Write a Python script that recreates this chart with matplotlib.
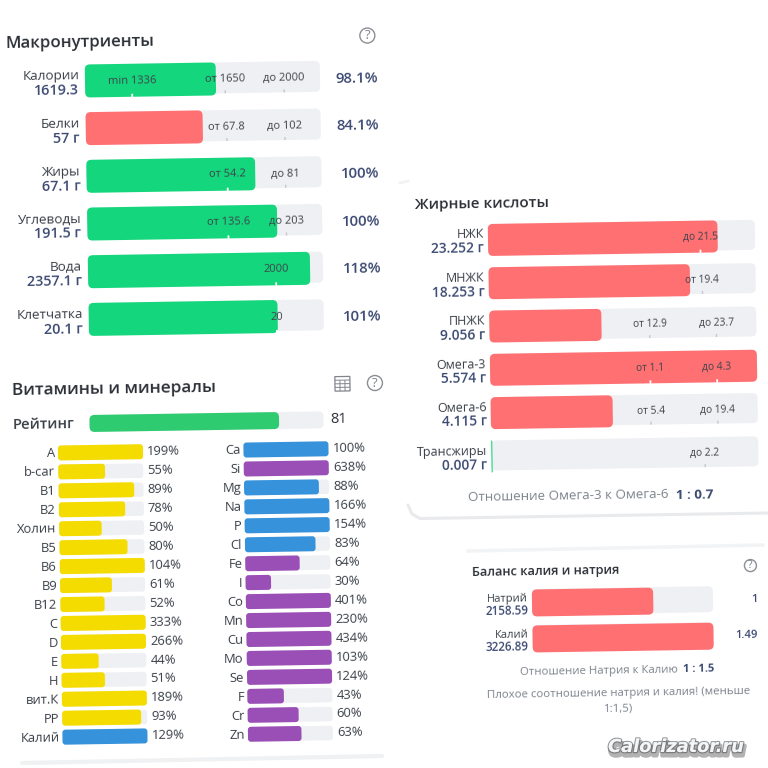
import matplotlib
matplotlib.use("Agg")
import matplotlib.pyplot as plt
import matplotlib.patheffects as pe
from matplotlib.patches import FancyBboxPatch, Circle, Rectangle
from matplotlib.transforms import Affine2D

plt.rcParams['font.family'] = ['Open Sans', 'DejaVu Sans']

GREEN = "#14d67c"
RED = "#ff7073"
TRACK = "#eff0f3"
YELLOW = "#f5dc00"
BLUE = "#3592db"
PURPLE = "#9a4fb6"
DARK = "#3a3f47"
NAVY = "#3c4a72"
GREY = "#7d838c"

# macronutrients
macro_names = ["Калории", "Белки", "Жиры", "Углеводы", "Вода", "Клетчатка"]
macro_values = ["1619.3", "57 г", "67.1 г", "191.5 г", "2357.1 г", "20.1 г"]
macro_pct = ["98.1%", "84.1%", "100%", "100%", "118%", "101%"]
macro_fill = [0.557, 0.498, 0.718, 0.808, 0.945, 0.804]
macro_colors = [GREEN, RED, GREEN, GREEN, GREEN, GREEN]
macro_ticks = [
    [("min 1336", 0.2), ("от 1650", 0.596), ("до 2000", 0.847)],
    [("от 67.8", 0.6), ("до 102", 0.847)],
    [("от 54.2", 0.6), ("до 81", 0.847)],
    [("от 135.6", 0.6), ("до 203", 0.847)],
    [("2000", 0.8)],
    [("20", 0.8)],
]

# vitamins and minerals
rating = 81
vit_names = ["A", "b-car", "B1", "B2", "Холин", "B5", "B6", "B9", "B12", "C", "D", "E", "H", "вит.К", "PP", "Калий"]
vit_pct = [199, 55, 89, 78, 50, 80, 104, 61, 52, 333, 266, 44, 51, 189, 93, 129]
min_names = ["Ca", "Si", "Mg", "Na", "P", "Cl", "Fe", "I", "Co", "Mn", "Cu", "Mo", "Se", "F", "Cr", "Zn"]
min_pct = [100, 638, 88, 166, 154, 83, 64, 30, 401, 230, 434, 103, 124, 43, 60, 63]
vit_colors = [YELLOW] * 15 + [BLUE]
min_colors = [BLUE, PURPLE, BLUE, BLUE, BLUE, BLUE] + [PURPLE] * 10

# fatty acids
fat_names = ["НЖК", "МНЖК", "ПНЖК", "Омега-3", "Омега-6", "Трансжиры"]
fat_values = ["23.252 г", "18.253 г", "9.056 г", "5.574 г", "4.115 г", "0.007 г"]
fat_fill = [0.86, 0.754, 0.42, 1.0, 0.457, 0.004]
fat_colors = [RED, RED, RED, RED, RED, GREEN]
fat_ticks = [
    [("до 21.5", 0.795)],
    [("от 19.4", 0.8)],
    [("от 12.9", 0.6), ("до 23.7", 0.85)],
    [("от 1.1", 0.6), ("до 4.3", 0.85)],
    [("от 5.4", 0.6), ("до 19.4", 0.85)],
    [("до 2.2", 0.8)],
]

# potassium / sodium
bal_names = ["Натрий", "Калий"]
bal_values = ["2158.59", "3226.89"]
bal_ratio = ["1", "1.49"]
bal_fill = [0.67, 1.0]

fig = plt.figure(figsize=(7.68, 7.68), dpi=100)
ax = fig.add_axes([0, 0, 1, 1])
ax.set_xlim(0, 768)
ax.set_ylim(768, 0)
ax.axis("off")

ANGLE = 0.9


class Panel:
    # everything in the screenshot is slightly rotated, so each block has its own pivot
    def __init__(self, px, py):
        self.rot = Affine2D().rotate_deg_around(px, py, -ANGLE)
        self.tf = self.rot + ax.transData

    def text(self, x, y, s, **kw):
        x2, y2 = self.rot.transform((x, y))
        kw.setdefault("va", "center")
        kw.setdefault("ha", "left")
        ax.text(x2, y2, s, rotation=ANGLE, rotation_mode="anchor", **kw)

    def box(self, x, y, w, h, color, r=5):
        r = min(r, w / 2, h / 2)
        ax.add_patch(FancyBboxPatch((x, y - h / 2), w, h, boxstyle=f"round,pad=0,rounding_size={r}",
                                    fc=color, ec="none", transform=self.tf))

    def line(self, x1, y1, x2, y2, color, lw=1.0):
        ax.plot([x1, x2], [y1, y2], color=color, lw=lw, transform=self.tf, solid_capstyle="butt")

    def help_icon(self, x, y, r=7.5):
        cx, cy = self.rot.transform((x, y))
        ax.add_patch(Circle((cx, cy), r, fc="white", ec="#8a8f96", lw=1.0))
        ax.text(cx, cy, "?", ha="center", va="center", fontsize=r * 1.25, color="#7b8087")


def tick_bar(p, x, y, w, h, fill, color, ticks, fs):
    # grey track, coloured fill, small labels with a notch on the bar bottom
    p.box(x, y - 1, w, h - 2, TRACK)
    p.box(x, y, w * fill, h, color)
    fill_end = x + w * fill
    for label, pos in ticks:
        tx = x + w * pos
        p.text(tx, y + 0.5, label, ha="center", fontsize=fs, color="#3f444b")
        if tx < fill_end:
            p.line(tx, y + h / 2 - 3, tx, y + h / 2 + 0.5, "white", 1.3)
        else:
            p.line(tx, y + h / 2 - 5, tx, y + h / 2 - 2, "#c4c7cc", 1.0)


# card shadows and separators
ax.plot([22, 382], [763, 756], color="#f0f1f3", lw=3, solid_capstyle="round")
ax.plot([408, 412, 420, 768], [505, 514, 518.5, 513], color="#e9eaec", lw=2.2, solid_capstyle="round")
ax.plot([400, 408], [183, 181], color="#f3f3f5", lw=2)
ax.plot([468, 763], [551, 545], color="#f2f3f5", lw=2.5)

# Macronutrients
p1 = Panel(85, 81)
p1.text(6, 43, "Макронутриенты", fontsize=12.1, weight="semibold", color="#2b2f36")
p1.help_icon(368, 40)
for i, name in enumerate(macro_names):
    y = 81 + i * 47.7
    p1.text(79, y - 5, name, ha="right", fontsize=9.7, color=DARK)
    p1.text(79, y + 9.5, macro_values[i], ha="right", fontsize=10.4, weight="semibold", color=NAVY)
    tick_bar(p1, 85, y, 235, 33, macro_fill[i], macro_colors[i], macro_ticks[i], 8.0)
    p1.text(378, y + 1.5, macro_pct[i], ha="right", fontsize=10.8, weight="semibold", color=NAVY)

# Vitamins and minerals
p2 = Panel(58, 453)
p2.text(13, 390, "Витамины и минералы", fontsize=12.4, weight="semibold", color="#2b2f36")
p2.help_icon(376, 388)
ix, iy = 336, 381
ax.add_patch(Rectangle((ix, iy), 15, 14.5, fc="none", ec="#80858c", lw=0.9, transform=p2.tf))
for k in (1, 2, 3):
    p2.line(ix, iy + k * 3.6, ix + 15, iy + k * 3.6, "#80858c", 0.7)
for k in (1, 2):
    p2.line(ix + k * 5, iy + 3.6, ix + k * 5, iy + 14.5, "#80858c", 0.7)
p2.text(13.5, 424.5, "Рейтинг", fontsize=10.6, weight="semibold", color=DARK)
p2.box(90, 424, 234, 17, TRACK)
p2.box(90, 424, 234 * rating / 100, 17, "#2ecb70")
p2.text(331, 424, str(rating), fontsize=10.5, color="#2b2f36")
ROW_H = 18.95
for col_x, names, pct, colors in ((58, vit_names, vit_pct, vit_colors), (243.5, min_names, min_pct, min_colors)):
    for i, name in enumerate(names):
        y = 453 + i * ROW_H
        p2.text(col_x - 3, y + 0.5, name, ha="right", fontsize=9.4, color=DARK)
        p2.box(col_x, y, 85, 14.5, TRACK, r=3)
        p2.box(col_x, y, 85 * min(pct[i], 100) / 100, 15, colors[i], r=3)
        p2.text(col_x + 89, y, f"{pct[i]}%", fontsize=9.4, color=DARK)

# Fatty acids
p3 = Panel(488, 240)
p3.text(415, 204, "Жирные кислоты", fontsize=11, weight="semibold", color="#2b2f36")
for i, name in enumerate(fat_names):
    y = 240 + i * 43.3
    p3.text(484, y - 5.5, name, ha="right", fontsize=9.0, color=DARK)
    p3.text(484, y + 8.5, fat_values[i], ha="right", fontsize=9.9, weight="semibold", color=NAVY)
    tick_bar(p3, 488, y, 267, 32, fat_fill[i], fat_colors[i], fat_ticks[i], 7.4)
p3.text(464, 497, "Отношение Омега-3 к Омега-6", fontsize=9.6, color=GREY)
p3.text(672, 498, "1 : 0.7", fontsize=9.6, weight="bold", color=NAVY)

# Potassium / sodium balance
p4 = Panel(532, 603)
p4.text(472, 572, "Баланс калия и натрия", fontsize=9.2, weight="semibold", color="#2b2f36")
p4.help_icon(751, 569, r=6)
for i, name in enumerate(bal_names):
    y = 603 + i * 36
    p4.text(528, y - 4.5, name, ha="right", fontsize=8, color=DARK)
    p4.text(528, y + 7.5, bal_values[i], ha="right", fontsize=8.4, weight="semibold", color=NAVY)
    p4.box(532, y - 1, 181, 26, TRACK)
    p4.box(532, y, 181 * bal_fill[i], 27, RED)
    p4.text(757, y - 0.5, bal_ratio[i], ha="right", fontsize=8, weight="semibold", color=NAVY)
p4.text(519, 672, "Отношение Натрия к Калию", fontsize=8.2, color=GREY)
p4.text(682, 672, "1 : 1.5", fontsize=8, weight="bold", color=NAVY)
p4.text(617, 695, "Плохое соотношение натрия и калия! (меньше", ha="center", fontsize=8.2, color=GREY)
p4.text(617, 710, "1:1,5)", ha="center", fontsize=8.2, color=GREY)

# watermark
ax.text(676, 747, "Calorizator.ru", ha="center", va="center", fontsize=12.8, style="italic", weight="bold",
        family=["DejaVu Sans"], color="#f4f5f7",
        path_effects=[pe.withStroke(linewidth=1.8, foreground="#9a9da1"),
                      pe.SimpleLineShadow(offset=(1, -2.5), shadow_color="#555", alpha=0.45, linewidth=3),
                      pe.Normal()])

fig.savefig("out.png", dpi=100)
